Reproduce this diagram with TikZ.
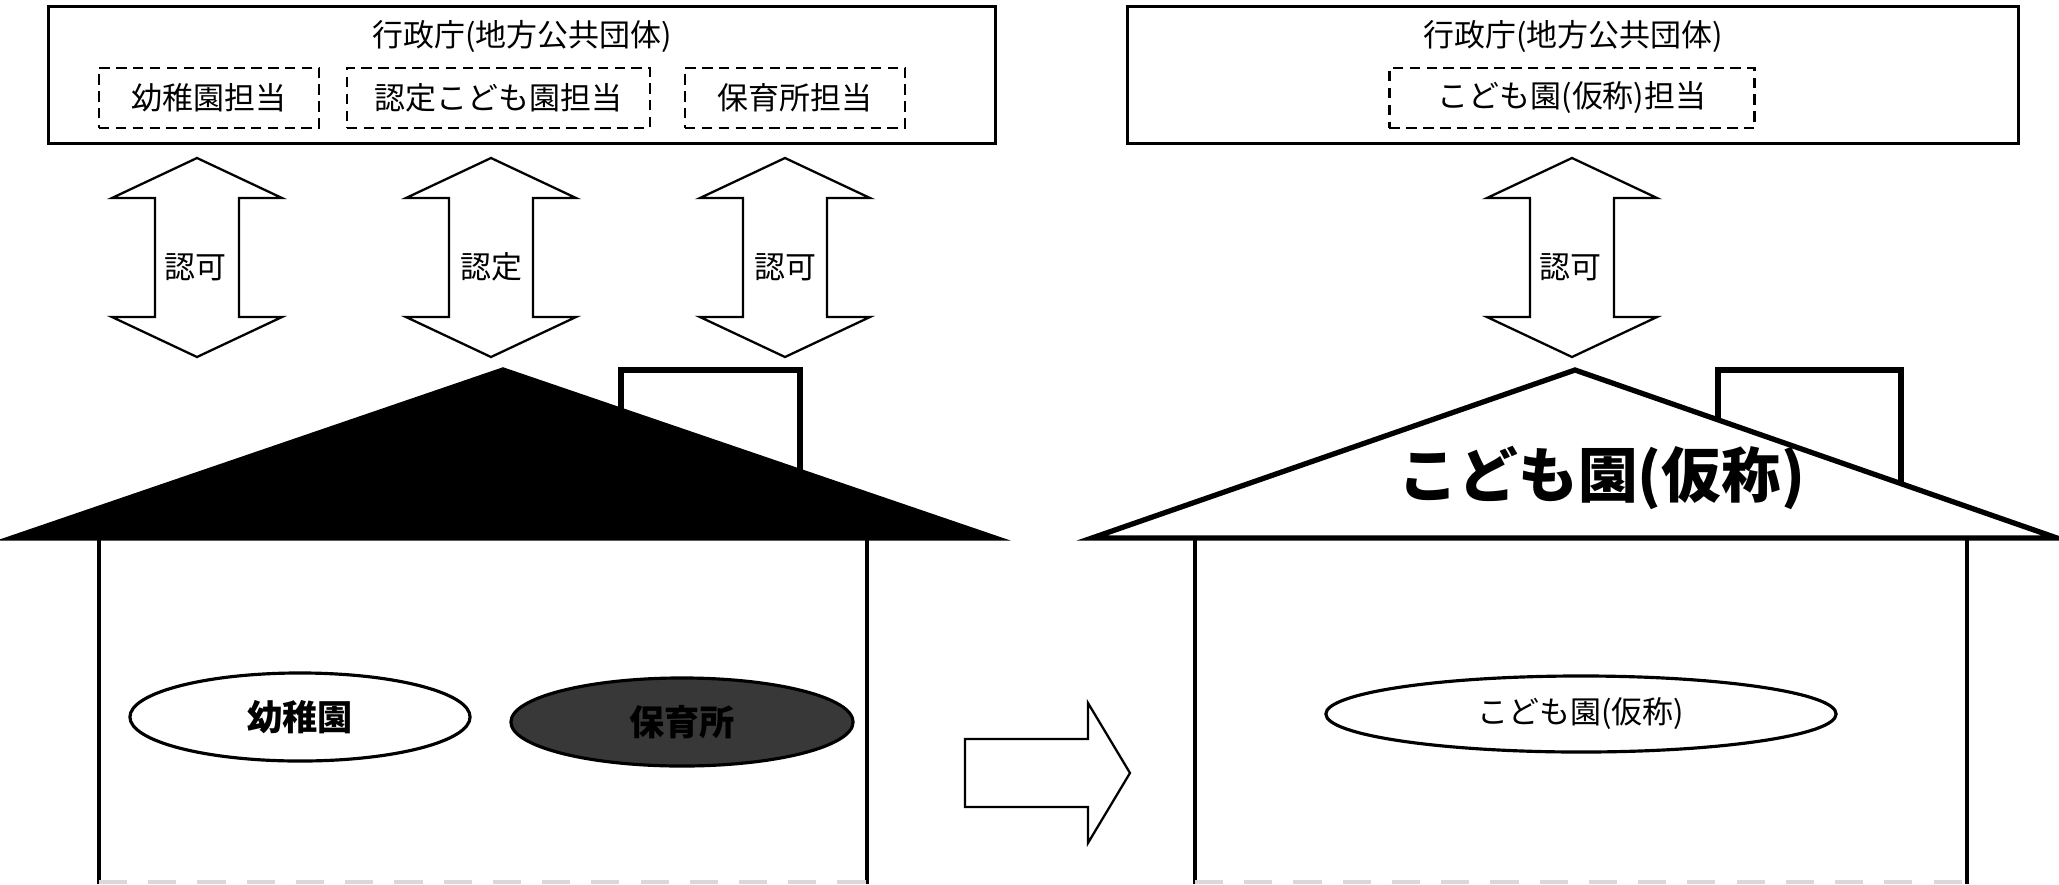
\documentclass[tikz,border=0pt]{standalone}
\usepackage{fontspec}
\setmainfont{Noto Sans CJK JP}
\usetikzlibrary{shapes.geometric}
\begin{document}
\begin{tikzpicture}[x=0.01cm,y=-0.01cm,
  govbox/.style={draw,line width=0.85pt,fill=white,inner sep=0pt},
  dashbox/.style={draw,line width=0.7pt,dash pattern=on 3pt off 1.8pt,inner sep=0pt,minimum height=0.6cm,font=\fontsize{8.8}{10}\selectfont},
  lbl/.style={inner sep=0pt,font=\fontsize{8.8}{10}\selectfont},
  arrline/.style={draw,line width=0.65pt,fill=white,line join=miter},
  roofline/.style={draw,line width=1.5pt,line join=miter},
  wall/.style={line width=1.4pt},
  oval/.style={ellipse,draw,line width=0.9pt,inner sep=0pt},
  dblarr/.pic={\path[arrline] (0,-99.5) -- (85,-59.5) -- (42,-59.5) -- (42,59.5) -- (85,59.5) -- (0,99.5) -- (-85,59.5) -- (-42,59.5) -- (-42,-59.5) -- (-85,-59.5) -- cycle;}
]
\useasboundingbox (0,0) rectangle (2059,884);

% ---------- left: administration ----------
\node[govbox,minimum width=9.46cm,minimum height=1.36cm] (govL) at (522,75) {};
\node[lbl] (govLt) at (522,36) {行政庁(地方公共団体)};
\node[dashbox,minimum width=2.2cm] (tantoA) at (209,98) {幼稚園担当};
\node[dashbox,minimum width=3.03cm] (tantoB) at (498.5,98) {認定こども園担当};
\node[dashbox,minimum width=2.2cm] (tantoC) at (795,98) {保育所担当};

% double arrows left
\pic (arrA) at (197,257.5) {dblarr};
\pic (arrB) at (491,257.5) {dblarr};
\pic (arrC) at (785,257.5) {dblarr};
\node[lbl] (arrAt) at (195,267) {認可};
\node[lbl] (arrBt) at (491,267) {認定};
\node[lbl] (arrCt) at (785,267) {認可};

% left house
\draw[roofline,fill=white] (621,538) |- (800,370) -- (800,538);
\draw[roofline,fill=black] (12,538) -- (503,370) -- (995,538) -- cycle;
\draw[wall] (99,538) -- (99,884);
\draw[wall] (867,538) -- (867,884);
\draw[gray!30,line width=1pt,dash pattern=on 8pt off 6pt] (99,882) -- (867,882);
\node[oval,fill=white,minimum width=3.4cm,minimum height=0.88cm] (yochien) at (300,717) {\bfseries\fontsize{10}{11}\selectfont 幼稚園};
\node[oval,fill=black!78,minimum width=3.42cm,minimum height=0.88cm] (hoikusho) at (682,722) {\bfseries\fontsize{10}{11}\selectfont 保育所};

% transition arrow
\path[arrline] (965,739) -- (1088,739) -- (1088,703) -- (1130,773) -- (1088,843) -- (1088,807) -- (965,807) -- cycle;

% ---------- right: administration ----------
\node[govbox,minimum width=8.9cm,minimum height=1.36cm] (govR) at (1573,75) {};
\node[lbl] (govRt) at (1573,36) {行政庁(地方公共団体)};
\node[dashbox,minimum width=3.65cm] (tantoD) at (1572,98) {こども園(仮称)担当};
\pic (arrD) at (1572,257.5) {dblarr};
\node[lbl] (arrDt) at (1570,267) {認可};

% right house
\draw[roofline,fill=white] (1718,538) |- (1901,370) -- (1901,538);
\draw[roofline,fill=white] (1092,538) -- (1575,370) -- (2057,538) -- cycle;
\node[inner sep=0pt,font=\bfseries\fontsize{17}{19}\selectfont] (rooftext) at (1602,478) {こども園(仮称)};
\draw[wall] (1195,538) -- (1195,884);
\draw[wall] (1967,538) -- (1967,884);
\draw[gray!30,line width=1pt,dash pattern=on 8pt off 6pt] (1195,882) -- (1967,882);
\node[oval,fill=white,minimum width=5.1cm,minimum height=0.76cm] (kodomoen) at (1581,714) {\fontsize{8.8}{10}\selectfont こども園(仮称)};
\end{tikzpicture}
\end{document}
